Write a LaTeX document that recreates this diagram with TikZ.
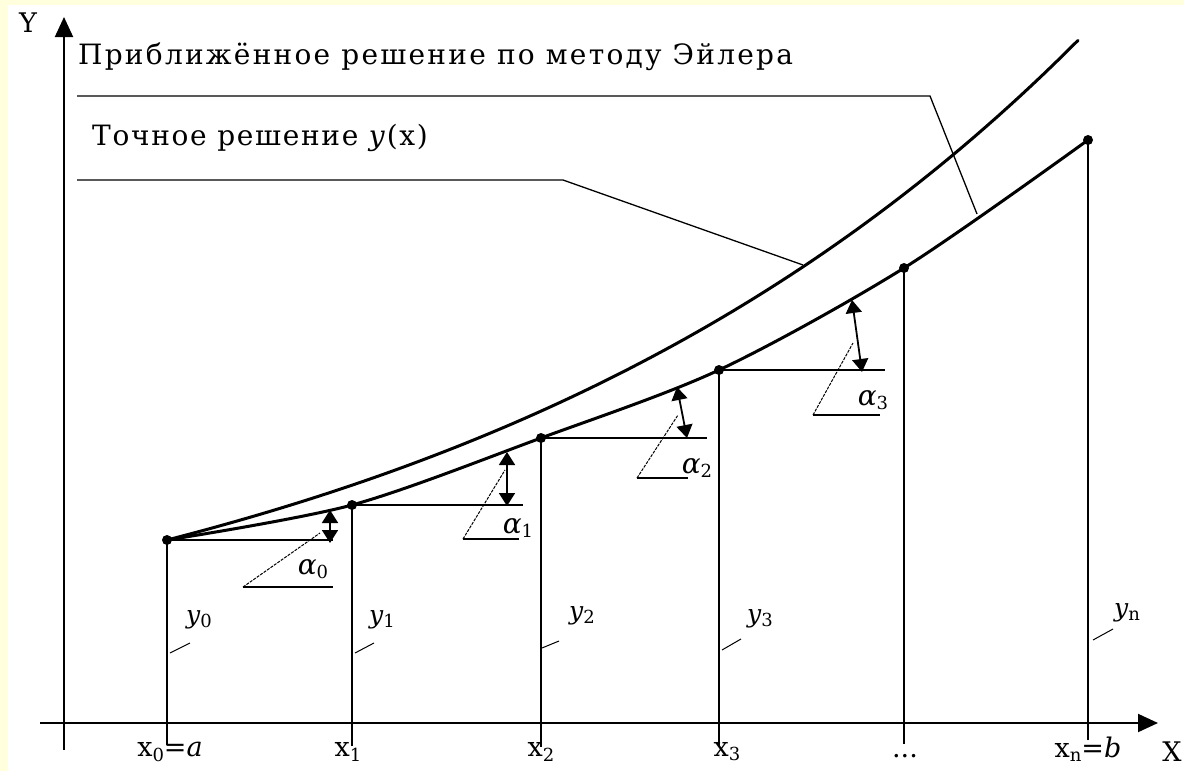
\documentclass[tikz,border=0pt]{standalone}
\usepackage{fontspec}
\setmainfont{DejaVu Serif}
\usetikzlibrary{arrows.meta}
\definecolor{bgyellow}{RGB}{255,255,222}
\newcommand{\lowsub}[1]{\raisebox{-0.3ex}{\fontsize{18}{18}\selectfont #1}}
\begin{document}
\begin{tikzpicture}[x=1pt,y=-1pt,
 curve/.style={line width=3pt, line join=round, line cap=round},
 axis/.style={line width=2pt, -{Triangle[length=20pt,width=18pt]}},
 vline/.style={line width=1.8pt},
 hline/.style={line width=1.5pt},
 hyp/.style={line width=1pt, dash pattern=on 3pt off 1.2pt},
 dbl/.style={line width=1.8pt, {Triangle[length=13pt,width=16pt]}-{Triangle[length=13pt,width=16pt]}},
 lbl/.style={inner sep=0pt, font=\fontsize{28}{30}\selectfont},
 xlbl/.style={inner sep=0pt, font=\fontsize{27}{28}\selectfont},
 slbl/.style={inner sep=0pt, font=\fontsize{25}{26}\selectfont},
 leader/.style={line width=1.3pt},
 tk/.style={line width=1pt},
 dot/.style={circle, fill=black, inner sep=0pt, minimum size=10pt}
]
\useasboundingbox (0,0) rectangle (1184,771);
\fill[bgyellow] (0,0) rectangle (1184,771);
\fill[white] (8,5) rectangle (1184,771);

% axes
\coordinate (yb) at (64,750);
\coordinate (yt) at (64,17);
\coordinate (xl) at (40,723);
\coordinate (xr) at (1158,723);
\draw[axis] (yb) -- (yt);
\draw[axis] (xl) -- (xr);
\node[xlbl] (Ylab) at (28,23) {Y};
\node[xlbl] (Xlab) at (1172,752) {X};

% Euler points
\node[dot] (p0) at (167,540) {};
\node[dot] (p1) at (352,505) {};
\node[dot] (p2) at (541,438) {};
\node[dot] (p3) at (719,370) {};
\node[dot] (p4) at (904,268) {};
\node[dot] (p5) at (1088,140) {};

% curves
\draw[curve] plot[domain=167:1078, samples=80] (\x, {540-172*(exp(0.0015*(\x-167))-1)});
\draw[curve] plot[smooth, tension=0.5] coordinates {(167,540) (352,505) (541,438) (719,370) (904,268) (1088,140)};

% verticals
\coordinate (b0) at (167,745);
\coordinate (b1) at (352,746);
\coordinate (b2) at (541,747);
\coordinate (b3) at (719,747);
\coordinate (b4) at (904,744);
\coordinate (b5) at (1088,740);
\foreach \i in {0,...,5} { \draw[vline] (b\i) -- (p\i.center); }

% horizontals
\coordinate (h0) at (333,540);
\coordinate (h1) at (523,505);
\coordinate (h2) at (707,438);
\coordinate (h3) at (885,370);
\foreach \i in {0,...,3} { \draw[hline] (p\i.center) -- (h\i); }

% angle triangles
\coordinate (a0b) at (243,587); \coordinate (a0e) at (333,587); \coordinate (a0t) at (320,533);
\coordinate (a1b) at (463,539); \coordinate (a1e) at (519,539); \coordinate (a1t) at (505,470);
\coordinate (a2b) at (637,478); \coordinate (a2e) at (688,478); \coordinate (a2t) at (678,415);
\coordinate (a3b) at (813,415); \coordinate (a3e) at (880,415); \coordinate (a3t) at (853,343);
\foreach \i in {0,...,3} {
  \draw[hline] (a\i b) -- (a\i e);
  \draw[hyp] (a\i b) -- (a\i t);
}
% double arrows
\coordinate (d0t) at (330,510); \coordinate (d0b) at (330,543);
\coordinate (d1t) at (507,452); \coordinate (d1b) at (507,506);
\coordinate (d2t) at (677,387); \coordinate (d2b) at (687,438);
\coordinate (d3t) at (852,300); \coordinate (d3b) at (862,372);
\foreach \i in {0,...,3} { \draw[dbl] (d\i b) -- (d\i t); }

\node[lbl] (al0) at (313,569) {\textit{α}\lowsub{0}};
\node[lbl] (al1) at (518,528) {\textit{α}\lowsub{1}};
\node[lbl] (al2) at (697,468) {\textit{α}\lowsub{2}};
\node[lbl] (al3) at (873,400) {\textit{α}\lowsub{3}};

% y labels with leaders
\node[slbl] (y0) at (199,620) {\textit{y}\lowsub{0}};
\node[slbl] (y1) at (382,620) {\textit{y}\lowsub{1}};
\node[slbl] (y2) at (582,616) {\textit{y}\lowsub{2}};
\node[slbl] (y3) at (760,619) {\textit{y}\lowsub{3}};
\node[slbl] (yn) at (1127,613) {\textit{y}\lowsub{n}};
\coordinate (l0a) at (170,653); \coordinate (l0b) at (190,643);
\coordinate (l1a) at (355,653); \coordinate (l1b) at (374,643);
\coordinate (l2a) at (542,648); \coordinate (l2b) at (559,641);
\coordinate (l3a) at (722,650); \coordinate (l3b) at (741,639);
\coordinate (l5a) at (1093,640); \coordinate (l5b) at (1113,629);
\foreach \i in {0,1,2,3,5} { \draw[tk] (l\i a) -- (l\i b); }

% x labels
\node[xlbl] (x0) at (170,752) {x\lowsub{0}=\textit{a}};
\node[xlbl] (x1) at (348,752) {x\lowsub{1}};
\node[xlbl] (x2) at (541,752) {x\lowsub{2}};
\node[xlbl] (x3) at (727,752) {x\lowsub{3}};
\node[xlbl] (x4) at (905,756) {...};
\node[xlbl] (x5) at (1088,749) {x\lowsub{n}=\textit{b}};

% legend texts and leaders
\node[lbl, anchor=base west] (euler) at (78,64) {\addfontfeatures{LetterSpace=8}Приближённое решение по методу Эйлера};
\node[lbl, anchor=base west] (exact) at (92,145) {\addfontfeatures{LetterSpace=6}Точное решение \textit{y}(x)};
\coordinate (e1) at (77,96); \coordinate (e2) at (930,96); \coordinate (e3) at (977,214);
\coordinate (t1) at (77,180); \coordinate (t2) at (563,180); \coordinate (t3) at (803,265);
\draw[leader] (e1) -- (e2) -- (e3);
\draw[leader] (t1) -- (t2) -- (t3);
\end{tikzpicture}
\end{document}
